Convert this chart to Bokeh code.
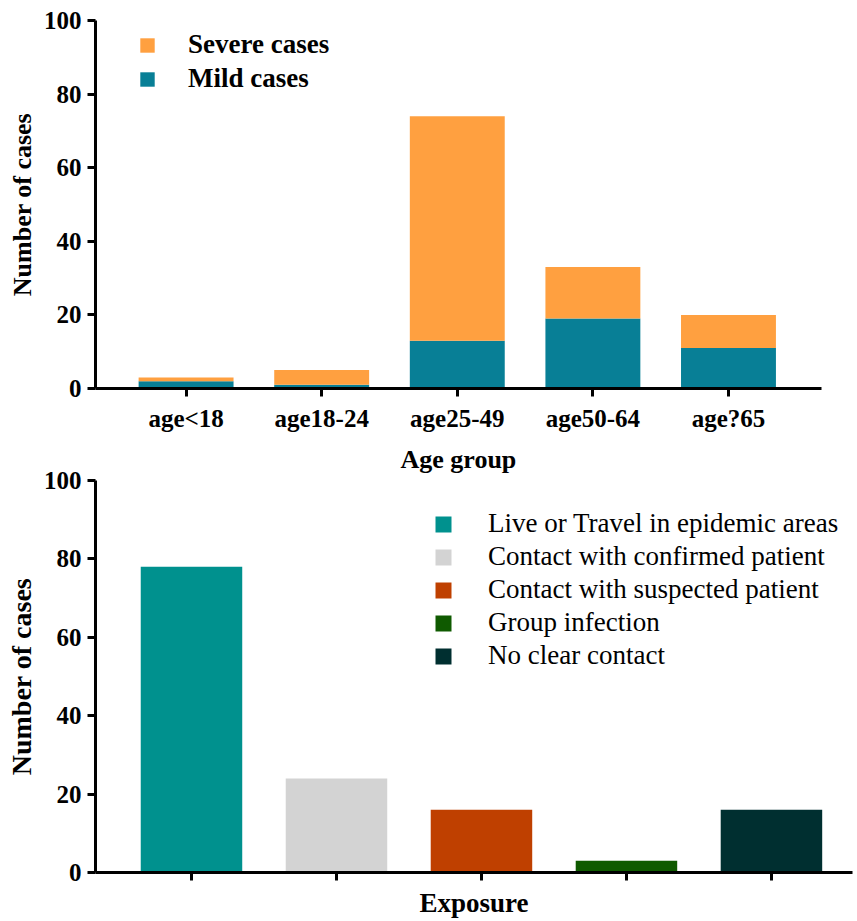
from bokeh.plotting import figure
from bokeh.models import Range1d, FixedTicker, Legend, LegendItem, ColumnDataSource
from bokeh.layouts import column, row
from bokeh.embed import file_html
from bokeh.resources import INLINE

# ---------------- data ----------------
age_groups = ["age<18", "age18-24", "age25-49", "age50-64", "age?65"]
mild_cases = [2, 1, 13, 19, 11]
severe_cases = [1, 4, 61, 14, 9]

exposure_types = [
    "Live or Travel in epidemic areas",
    "Contact with confirmed patient",
    "Contact with suspected patient",
    "Group infection",
    "No clear contact",
]
exposure_counts = [78, 24, 16, 3, 16]

y_ticks = [0, 20, 40, 60, 80, 100]

# ---------------- style ----------------
FONT = "Liberation Serif, Times New Roman, Times, DejaVu Serif, serif"
SEVERE_COLOR = "#FFA040"
MILD_COLOR = "#087F96"
EXPOSURE_COLORS = ["#00918E", "#D3D3D3", "#BF4000", "#0F5A00", "#002F30"]


def style_axes(p, tick_size, ylabel_size, xlabel_size):
    p.outline_line_color = None
    p.xgrid.grid_line_color = None
    p.ygrid.grid_line_color = None
    p.background_fill_color = "white"
    p.border_fill_color = "white"
    for ax in (p.xaxis[0], p.yaxis[0]):
        ax.axis_line_width = 3
        ax.axis_line_color = "black"
        ax.major_tick_line_width = 3
        ax.major_tick_line_color = "black"
        ax.major_tick_out = 8
        ax.major_tick_in = 0
        ax.minor_tick_line_color = None
        ax.major_label_text_font = FONT
        ax.major_label_text_font_style = "bold"
        ax.major_label_text_font_size = tick_size
        ax.major_label_text_color = "black"
        ax.axis_label_text_font = FONT
        ax.axis_label_text_font_style = "bold"
        ax.axis_label_text_color = "black"
    p.yaxis[0].axis_label_text_font_size = ylabel_size
    p.xaxis[0].axis_label_text_font_size = xlabel_size
    p.yaxis[0].ticker = FixedTicker(ticks=y_ticks)
    p.yaxis[0].major_label_standoff = 6
    p.yaxis[0].axis_label_standoff = 4


# ---------------- top chart ----------------
x_top = list(range(len(age_groups)))
src_top = ColumnDataSource(dict(x=x_top, mild=mild_cases, severe=severe_cases))

p1 = figure(
    width=855, height=434,
    x_range=Range1d(-0.668, len(age_groups) - 1 + 0.686),
    y_range=Range1d(0, 100),
    output_backend="svg", toolbar_location=None,
    min_border_left=95, min_border_right=34, min_border_top=20, min_border_bottom=46,
)
r_mild, r_sev = p1.vbar_stack(
    ["mild", "severe"], x="x", width=0.7, color=[MILD_COLOR, SEVERE_COLOR],
    line_color=None, source=src_top,
)
style_axes(p1, "25px", "26px", "26px")
p1.yaxis[0].axis_label = "Number of cases"
p1.xaxis[0].ticker = FixedTicker(ticks=x_top)
p1.xaxis[0].major_label_overrides = {i: g for i, g in zip(x_top, age_groups)}
p1.xaxis[0].major_label_standoff = 8

leg1 = Legend(
    items=[LegendItem(label="Severe cases", renderers=[r_sev]),
           LegendItem(label="Mild cases", renderers=[r_mild])],
    location=(43, 294),
    glyph_width=18, glyph_height=18, label_standoff=32, spacing=3,
    padding=0, margin=0, border_line_color=None, background_fill_alpha=0,
    label_text_font=FONT, label_text_font_style="bold", label_text_font_size="27px",
    label_text_color="black",
)
p1.add_layout(leg1)

# ---------------- bottom chart ----------------
x_bot = list(range(len(exposure_types)))
src_bot = ColumnDataSource(dict(x=x_bot, count=exposure_counts, color=EXPOSURE_COLORS))

p2 = figure(
    width=855, height=486,
    x_range=Range1d(-0.662, len(exposure_types) - 1 + 0.559),
    y_range=Range1d(0, 100),
    output_backend="svg", toolbar_location=None,
    min_border_left=95, min_border_right=3, min_border_top=46, min_border_bottom=48,
)
# x-axis title of the upper chart, placed in the gap between the two charts
p2.title.text = "Age group"
p2.title.text_font = FONT
p2.title.text_font_style = "bold"
p2.title.text_font_size = "26px"
p2.title.text_color = "black"
p2.title.align = "left"
p2.title.offset = 305
p2.title.standoff = 13

r_bars = p2.vbar(x="x", top="count", width=0.7, color="color", line_color=None, source=src_bot)
style_axes(p2, "25px", "28px", "27px")
p2.yaxis[0].axis_label = "Number of cases"
p2.xaxis[0].axis_label = "Exposure"
p2.xaxis[0].ticker = FixedTicker(ticks=x_bot)
p2.xaxis[0].major_label_overrides = {i: "" for i in x_bot}
p2.xaxis[0].major_label_standoff = 0
p2.xaxis[0].axis_label_standoff = 7

leg2 = Legend(
    items=[LegendItem(label=t, renderers=[r_bars], index=i) for i, t in enumerate(exposure_types)],
    location=(338, 201),
    glyph_width=20, glyph_height=20, label_standoff=35, spacing=2,
    padding=0, margin=0, border_line_color=None, background_fill_alpha=0,
    label_text_font=FONT, label_text_font_size="27px", label_text_color="black",
)
p2.add_layout(leg2)

layout = column(row(p1), row(p2), spacing=0)
open("out.html", "w").write(file_html(layout, INLINE))
